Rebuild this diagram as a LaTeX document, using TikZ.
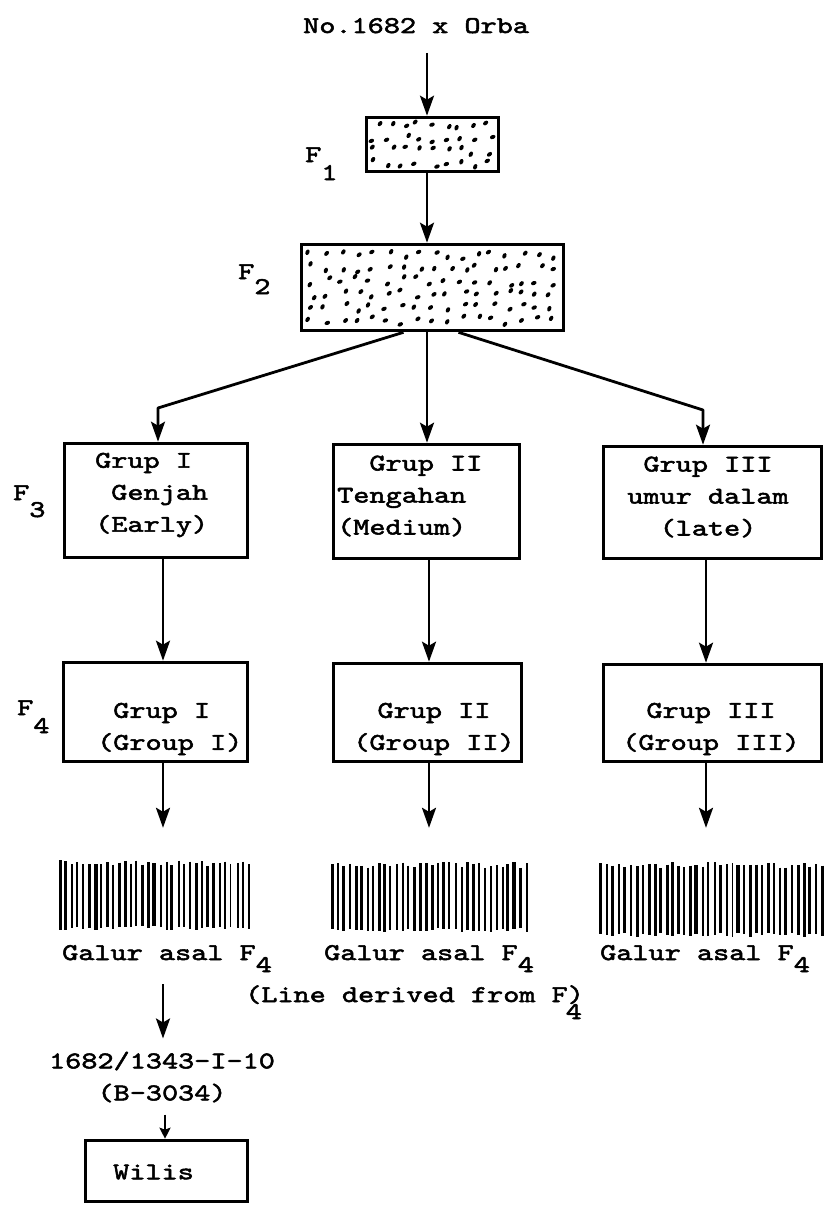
\documentclass[tikz,border=0pt]{standalone}
\usepackage{fontspec}
\newfontfamily\typewr{lmmono10-regular.otf}[FakeStretch=1.28,FakeBold=2.2]
\usetikzlibrary{arrows.meta,calc}

\tikzset{
  txt/.style={inner sep=0pt, font=\typewr\fontsize{24}{32}\selectfont},
  frame/.style={draw, line width=3.6pt, inner sep=0pt},
  zone/.style={inner sep=0pt, draw=none},
  arr/.style={line width=2.8pt, line join=round,
    -{Stealth[length=20pt,width=14pt,inset=4pt]}},
  smallarr/.style={line width=2.6pt, -{Stealth[length=11pt,width=11pt,inset=2pt]}},
}

% stippled fill: x0 y0 w h cols rows seed
\newcommand\stipple[7]{%
  \pgfmathsetseed{#7}%
  \foreach \i in {1,...,#5}{\foreach \j in {1,...,#6}{%
    \pgfmathsetmacro\stX{#1+(\i-0.5+0.34*rand)*#3/#5}%
    \pgfmathsetmacro\stY{#2+(\j-0.5+0.34*rand)*#4/#6}%
    \pgfmathsetmacro\stA{20+50*rnd}%
    \fill[shift={(\stX,\stY)},rotate=\stA] (0,0) ellipse (2.9pt and 2pt);
  }}}

% row of vertical line strokes: x0 y0 w h count seed
\newcommand\barcode[6]{%
  \pgfmathsetseed{#6}%
  \foreach \i in {0,...,#5}{%
    \pgfmathsetmacro\bcX{#1+\i*#3/#5+0.8*rand}%
    \pgfmathsetmacro\bcW{1.6+1.8*rnd}%
    \pgfmathsetmacro\bcT{#2+6*rnd}%
    \pgfmathsetmacro\bcB{#2+#4-4*rnd}%
    \draw[line width=\bcW pt] (\bcX,\bcT) -- (\bcX,\bcB);
  }}

\begin{document}
\begin{tikzpicture}[x=1pt,y=-1pt]
\fill[white] (0,0) rectangle (826,1215);
\useasboundingbox (0,0) rectangle (826,1215);

% cross and first two generations
\node[txt, anchor=base west] (title) at (303,33) {No.1682 x Orba};
\coordinate (t0) at (427,53);

\node[frame, minimum width=132pt, minimum height=54pt] (f1) at (432.5,144.5) {};
\stipple{369}{120}{127}{49}{9}{4}{17}
\node[frame, minimum width=262pt, minimum height=86pt] (f2) at (432.5,287.5) {};
\stipple{305}{248}{255}{79}{17}{6}{23}

\node[txt, anchor=base west] (lf1) at (305,162) {F\raisebox{-18pt}{1}};
\node[txt, anchor=base west] (lf2) at (238,279) {F\raisebox{-15pt}{2}};

\draw[arr] (t0) -- (t0 |- f1.north);
\draw[arr] (t0 |- f1.south) -- (t0 |- f2.north);

% F3 groups
\node[frame, minimum width=183pt, minimum height=114pt] (g1) at (156,500.5) {};
\node[frame, minimum width=186pt, minimum height=114pt] (g2) at (426.5,501.5) {};
\node[frame, minimum width=218pt, minimum height=112pt] (g3) at (712.5,502.5) {};
\node[txt, align=left, anchor=west] (g1t) at (95,495) {Grup I\\\ Genjah\\(Early)};
\node[txt, align=left, anchor=west] (g2t) at (337,496) {\ \ Grup II\\Tengahan\\(Medium)};
\node[txt, align=center] (g3t) at (708,497) {Grup III\\umur dalam\\(late)};
\node[txt, anchor=base west] (lf3) at (13,500) {F\raisebox{-17pt}{3}};

\coordinate (cl) at (158,408);
\coordinate (cr) at (703,410);
\draw[arr] ([xshift=-29pt]f2.south) -- (cl) -- (cl |- g1.north);
\draw[arr] (t0 |- f2.south) -- (t0 |- g2.north);
\draw[arr] ([xshift=26pt]f2.south) -- (cr) -- (cr |- g3.north);

% F4 groups
\node[frame, minimum width=184pt, minimum height=99pt] (h1) at (155.5,712) {};
\node[frame, minimum width=188pt, minimum height=98pt] (h2) at (427.5,712.5) {};
\node[frame, minimum width=218pt, minimum height=97pt] (h3) at (712.5,713) {};
\node[txt, align=left, anchor=west] (h1t) at (97,729) {\ Grup I\\(Group I)};
\node[txt, align=center] (h2t) at (434,729) {Grup II\\(Group II)};
\node[txt, align=center] (h3t) at (711,729) {Grup III\\(Group III)};
\node[txt, anchor=base west] (lf4) at (17,715) {F\raisebox{-18pt}{4}};

\coordinate (ax1) at (163,0);
\coordinate (ax2) at (429,0);
\coordinate (ax3) at (706,0);
\draw[arr] (ax1 |- g1.south) -- (ax1 |- h1.north);
\draw[arr] (ax2 |- g2.south) -- (ax2 |- h2.north);
\draw[arr] (ax3 |- g3.south) -- (ax3 |- h3.north);

% lines derived from F4
\node[zone, minimum width=191pt, minimum height=70pt] (b1) at (154.5,895) {};
\node[zone, minimum width=196pt, minimum height=70pt] (b2) at (429,897) {};
\node[zone, minimum width=223pt, minimum height=75pt] (b3) at (711.5,899.5) {};
\barcode{60}{860}{189}{70}{32}{5}
\barcode{332}{862}{194}{70}{33}{11}
\barcode{601}{862}{221}{75}{37}{29}

\draw[arr, shorten >=32pt] (ax1 |- h1.south) -- (ax1 |- b1.north);
\draw[arr, shorten >=34pt] (ax2 |- h2.south) -- (ax2 |- b2.north);
\draw[arr, shorten >=34pt] (ax3 |- h3.south) -- (ax3 |- b3.north);

\node[txt, anchor=base west] (gl1) at (62,960) {Galur asal F\raisebox{-12pt}{4}};
\node[txt, anchor=base west] (gl2) at (324,960) {Galur asal F\raisebox{-12pt}{4}};
\node[txt, anchor=base west] (gl3) at (600,960) {Galur asal F\raisebox{-12pt}{4}};
\node[txt, anchor=base west] (ld) at (245,1002) {(Line derived from F\rlap{\kern-2pt\raisebox{-17pt}{4}})};

% selected line and released variety
\node[txt, align=center] (code) at (162,1077) {1682/1343-I-10\\(B-3034)};
\draw[arr, shorten <=12pt, shorten >=13pt] (ax1 |- gl1.south) -- (ax1 |- code.north);

\node[frame, minimum width=162pt, minimum height=61pt] (wl) at (166.5,1171) {};
\node[txt, anchor=west] (wlt) at (113,1172) {Wilis};
\coordinate (ax0) at (165,0);
\draw[smallarr, shorten <=12pt] (ax0 |- code.south) -- (ax0 |- wl.north);
\end{tikzpicture}
\end{document}
